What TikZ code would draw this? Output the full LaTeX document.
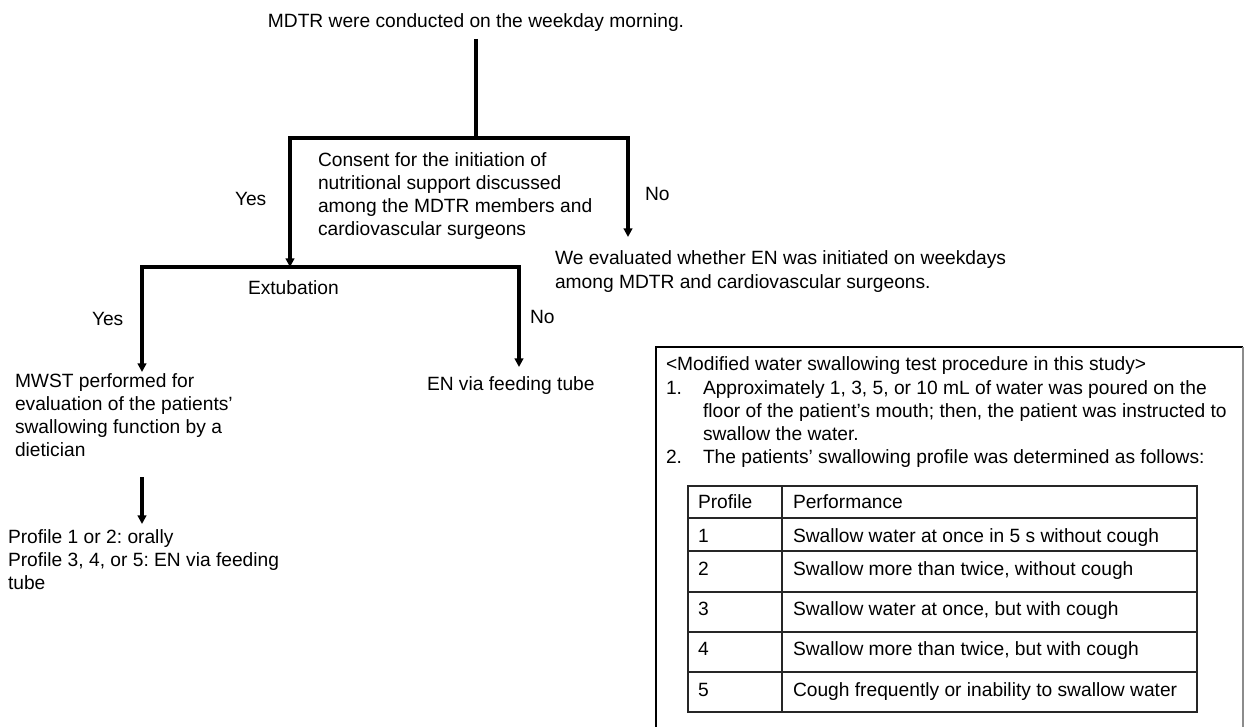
\documentclass[tikz,border=0pt]{standalone}
\usepackage{fontspec}
\setmainfont{Liberation Sans}
\usetikzlibrary{arrows.meta}
\newcommand{\mlines}[1]{\begin{tabular}[t]{@{}l@{}}#1\end{tabular}}
\frenchspacing
\begin{document}
\frenchspacing
\begin{tikzpicture}[x=0.75pt,y=-0.75pt,
  txt/.style={inner sep=0pt, outer sep=0pt, anchor=base west,
    font=\fontsize{14.4}{17.25}\selectfont\frenchspacing},
  conn/.style={line width=2.3pt, line join=miter},
  arr/.style={conn,-{Triangle[length=6.5pt,width=6.5pt]}},
  tline/.style={line width=1.2pt, draw=black!85},
  boxline/.style={line width=1.5pt}]
\useasboundingbox (0,0) rectangle (1245,727);

% --- flow chart text ---
\node[txt,anchor=base] (top) at (476,28) {MDTR were conducted on the weekday morning.};
\node[txt] (consent) at (318,167) {\mlines{Consent for the initiation of\\nutritional support discussed\\among the MDTR members and\\cardiovascular surgeons}};
\node[txt] (yes1) at (235,206) {Yes};
\node[txt] (no1) at (645,201) {No};
\node[txt] (eval) at (555,265) {\mlines{We evaluated whether EN was initiated on weekdays\\among MDTR and cardiovascular surgeons.}};
\node[txt] (ext) at (248,294) {Extubation};
\node[txt] (yes2) at (92,325) {Yes};
\node[txt] (no2) at (530,323) {No};
\node[txt] (mwst) at (15,387) {\mlines{MWST performed for\\evaluation of the patients’\\swallowing function by a\\dietician}};
\node[txt] (en) at (427,390) {EN via feeding tube};
\node[txt] (prof) at (8,543) {\mlines{Profile 1 or 2: orally\\Profile 3, 4, or 5: EN via feeding\\tube}};

% --- connector points ---
\coordinate (s0) at (476,39);
\coordinate (j1) at (476,138);
\coordinate (j1l) at (290,138);
\coordinate (j1r) at (628,138);
\coordinate (j2) at (290,267);
\coordinate (j2l) at (142,267);
\coordinate (j2r) at (519,267);
\coordinate (evalin) at (628,237);
\coordinate (mwstin) at (142,372);
\coordinate (enin) at (519,367);
\coordinate (mwstout) at (142,477);
\coordinate (profin) at (142,524);

\draw[conn] (s0) -- (j1);
\draw[arr] (j1) -- (j1l) -- (j2);
\draw[arr] (j1) -- (j1r) -- (evalin);
\draw[conn] (j2l) -- (j2r);
\draw[arr] (j2) -- (j2l) -- (mwstin);
\draw[arr] (j2) -- (j2r) -- (enin);
\draw[arr] (mwstout) -- (profin);

% --- procedure box ---
\draw[boxline] (656,727) -- (656,347) -- (1243,347);
\draw[boxline,draw=black!45] (1243,347) -- (1243,727);
\node[txt] (title) at (666,370) {<Modified water swallowing test procedure in this study>};
\node[txt] (n1) at (666,394) {1.};
\node[txt] (i1) at (703,394) {\mlines{Approximately 1, 3, 5, or 10 mL of water was poured on the\\floor of the patient’s mouth; then, the patient was instructed to\\swallow the water.}};
\node[txt] (n2) at (666,463) {2.};
\node[txt] (i2) at (703,463) {The patients’ swallowing profile was determined as follows:};

% --- table ---
\draw[tline] (688,486) rectangle (1197,712);
\foreach \yy in {518,551,592,632,672} \draw[tline] (688,\yy) -- (1197,\yy);
\draw[tline] (782,486) -- (782,712);
\node[txt] (h1) at (698,508) {Profile};
\node[txt] (h2) at (793,508) {Performance};
\node[txt] (p1) at (698,542) {1};
\node[txt] (d1) at (793,542) {Swallow water at once in 5 s without cough};
\node[txt] (p2) at (698,575) {2};
\node[txt] (d2) at (793,575) {Swallow more than twice, without cough};
\node[txt] (p3) at (698,615) {3};
\node[txt] (d3) at (793,615) {Swallow water at once, but with cough};
\node[txt] (p4) at (698,655) {4};
\node[txt] (d4) at (793,655) {Swallow more than twice, but with cough};
\node[txt] (p5) at (698,696) {5};
\node[txt] (d5) at (793,696) {Cough frequently or inability to swallow water};
\end{tikzpicture}
\end{document}
